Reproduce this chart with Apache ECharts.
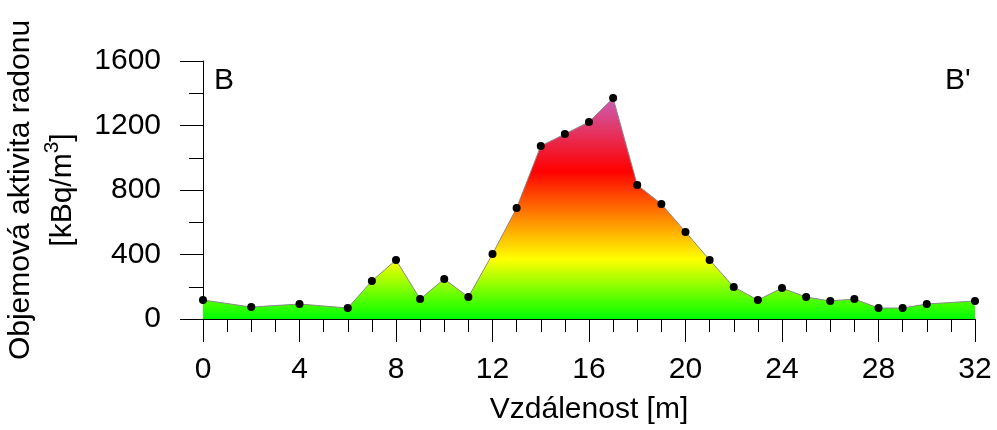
<!DOCTYPE html>
<html>
<head>
<meta charset="utf-8">
<script src="https://cdn.jsdelivr.net/npm/echarts@6/dist/echarts.min.js"></script>
<style>html,body{margin:0;padding:0;background:#fff;}#c{width:997px;height:430px;}</style>
</head>
<body>
<div id="c"></div>
<script>
var distances = [0, 2, 4, 6, 7, 8, 9, 10, 11, 12, 13, 14, 15, 16, 17, 18, 19, 20, 21, 22, 23, 24, 25, 26, 27, 28, 29, 30, 32];
var radon = [118, 74, 93, 68, 236, 366, 124, 248, 136, 403, 688, 1073, 1147, 1222, 1370, 831, 713, 540, 366, 198, 118, 192, 136, 112, 124, 68, 68, 93, 112];
var xTicks = [0, 4, 8, 12, 16, 20, 24, 28, 32];
var yTicks = [0, 400, 800, 1200, 1600];

var FONT = 'Liberation Sans, Arial, sans-serif';
var chart = echarts.init(document.getElementById('c'), null, {renderer: 'canvas'});
var pts = distances.map(function (d, i) { return [d, radon[i]]; });

chart.setOption({
  animation: false,
  grid: {left: 203, right: 22, top: 61, bottom: 111, containLabel: false, outerBoundsMode: 'none'},
  xAxis: {
    type: 'value', min: xTicks[0], max: xTicks[xTicks.length - 1], interval: 4,
    name: 'Vzdálenost [m]', nameLocation: 'middle', nameGap: 76,
    nameTextStyle: {fontFamily: FONT, fontSize: 30, color: '#000'},
    axisLine: {show: true, onZero: false, lineStyle: {color: '#000', width: 1}},
    axisTick: {show: true, inside: false, length: 23, lineStyle: {color: '#000', width: 1}},
    minorTick: {show: true, splitNumber: 4, length: 13, lineStyle: {color: '#000', width: 1}},
    axisLabel: {fontFamily: FONT, fontSize: 30, color: '#000', margin: 36, formatter: function (v) { return String(v); }},
    splitLine: {show: false}
  },
  yAxis: {
    type: 'value', min: yTicks[0], max: yTicks[yTicks.length - 1], interval: 400,
    name: 'Objemová aktivita radonu\n[kBq/m{sup|3}]', nameLocation: 'middle', nameRotate: 90, nameGap: 118,
    nameTextStyle: {fontFamily: FONT, fontSize: 30, color: '#000', lineHeight: 42, align: 'center',
      rich: {sup: {fontFamily: FONT, fontSize: 21, color: '#000', verticalAlign: 'top', lineHeight: 42, padding: [0, 0, 14, 0]}}},
    axisLine: {show: true, lineStyle: {color: '#000', width: 1}},
    axisTick: {show: true, inside: false, length: 23, lineStyle: {color: '#000', width: 1}},
    minorTick: {show: true, splitNumber: 2, length: 14, lineStyle: {color: '#000', width: 1}},
    axisLabel: {fontFamily: FONT, fontSize: 30, color: '#000', margin: 42, formatter: function (v) { return String(v); }},
    splitLine: {show: false}
  },
  series: [{
    type: 'line',
    data: pts,
    symbol: 'circle', symbolSize: 8,
    itemStyle: {color: '#000'},
    lineStyle: {color: '#888', width: 1},
    areaStyle: {
      opacity: 1,
      color: new echarts.graphic.LinearGradient(0, 0, 0, 1, [
        {offset: 0, color: '#cc5fb5'},
        {offset: 0.33, color: '#ff0000'},
        {offset: 0.53, color: '#ff8000'},
        {offset: 0.73, color: '#ffff00'},
        {offset: 1, color: '#00ff00'}
      ])
    },
    z: 3
  }],
  graphic: [
    {type: 'text', left: 214, top: 66, style: {text: 'B', font: '30px ' + FONT, fill: '#000'}},
    {type: 'text', left: 945, top: 66, style: {text: "B'", font: '30px ' + FONT, fill: '#000'}}
  ]
});
</script>
</body>
</html>
